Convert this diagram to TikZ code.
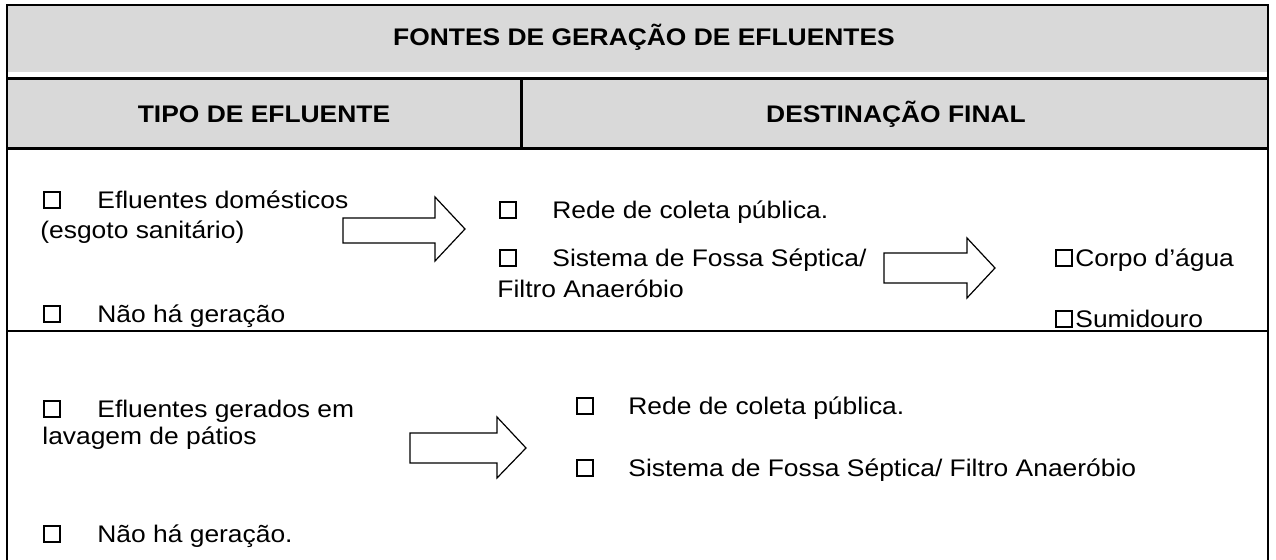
\documentclass[tikz,border=0pt]{standalone}
\usepackage{fontspec}
\setmainfont{Liberation Sans}[FakeStretch=1.1]
\begin{document}
\begin{tikzpicture}[x=0.5pt,y=-0.5pt,
  txt/.style={anchor=base west, inner sep=0, font=\fontsize{12}{14}\selectfont},
  hdr/.style={anchor=base, inner sep=0, font=\bfseries\fontsize{12}{14}\selectfont},
  cbox/.style={draw, line width=1pt, minimum size=8pt, inner sep=0, anchor=south west},
  thin/.style={line width=0.6pt},
  thick/.style={line width=1.5pt},
  blockarrow/.style={draw, line width=0.6pt, fill=white, line join=miter}]
\useasboundingbox (0,0) rectangle (1276,560);
% grey header bands
\fill[gray!30] (7,5) rectangle (1268,72);
\fill[gray!30] (7,80) rectangle (1268,148);
% frame
\draw[thin] (7,560) -- (7,5) -- (1268,5) -- (1268,560);
\draw[thick] (7,79) -- (1268,79);
\draw[thick] (7,149) -- (1268,149);
\draw[thick] (521,79) -- (521,149);
\draw[thin] (7,331) -- (1268,331);
% headers
\node[hdr] (title) at (644,46) {FONTES DE GERAÇÃO DE EFLUENTES};
\node[hdr] (tipo) at (264,123) {TIPO DE EFLUENTE};
\node[hdr] (dest) at (896,123) {DESTINAÇÃO FINAL};
% row 1
\node[cbox] (b1) at (43,209) {};
\node[txt] (t1) at (97,209) {Efluentes domésticos};
\node[txt] (t1b) at (40,239) {(esgoto sanitário)};
\node[cbox] (b2) at (43,323) {};
\node[txt] (t2) at (97,323) {Não há geração};
\node[cbox] (b3) at (499,219) {};
\node[txt] (t3) at (552,219) {Rede de coleta pública.};
\node[cbox] (b4) at (499,267) {};
\node[txt] (t4) at (552,267) {Sistema de Fossa Séptica/};
\node[txt] (t4b) at (497,298) {Filtro Anaeróbio};
\node[cbox] (b5) at (1055,267) {};
\node[txt] (t5) at (1075,267) {Corpo d’água};
\node[cbox] (b6) at (1055,328) {};
\node[txt] (t6) at (1075,328) {Sumidouro};
% row 2
\node[cbox] (b7) at (43,418) {};
\node[txt] (t7) at (97,418) {Efluentes gerados em};
\node[txt] (t7b) at (42,445) {lavagem de pátios};
\node[cbox] (b8) at (43,543) {};
\node[txt] (t8) at (97,543) {Não há geração.};
\node[cbox] (b9) at (576,415) {};
\node[txt] (t9) at (628,415) {Rede de coleta pública.};
\node[cbox] (b10) at (576,477) {};
\node[txt] (t10) at (628,477) {Sistema de Fossa Séptica/ Filtro Anaeróbio};
% block arrows
\draw[blockarrow] (343,218) -- (435,218) -- (435,197) -- (465,229) -- (435,261) -- (435,243) -- (343,243) -- cycle;
\draw[blockarrow] (884,253) -- (967,253) -- (967,238) -- (995,268) -- (967,298) -- (967,283) -- (884,283) -- cycle;
\draw[blockarrow] (410,433) -- (497,433) -- (497,417) -- (526,448) -- (497,478) -- (497,463) -- (410,463) -- cycle;
\end{tikzpicture}
\end{document}
